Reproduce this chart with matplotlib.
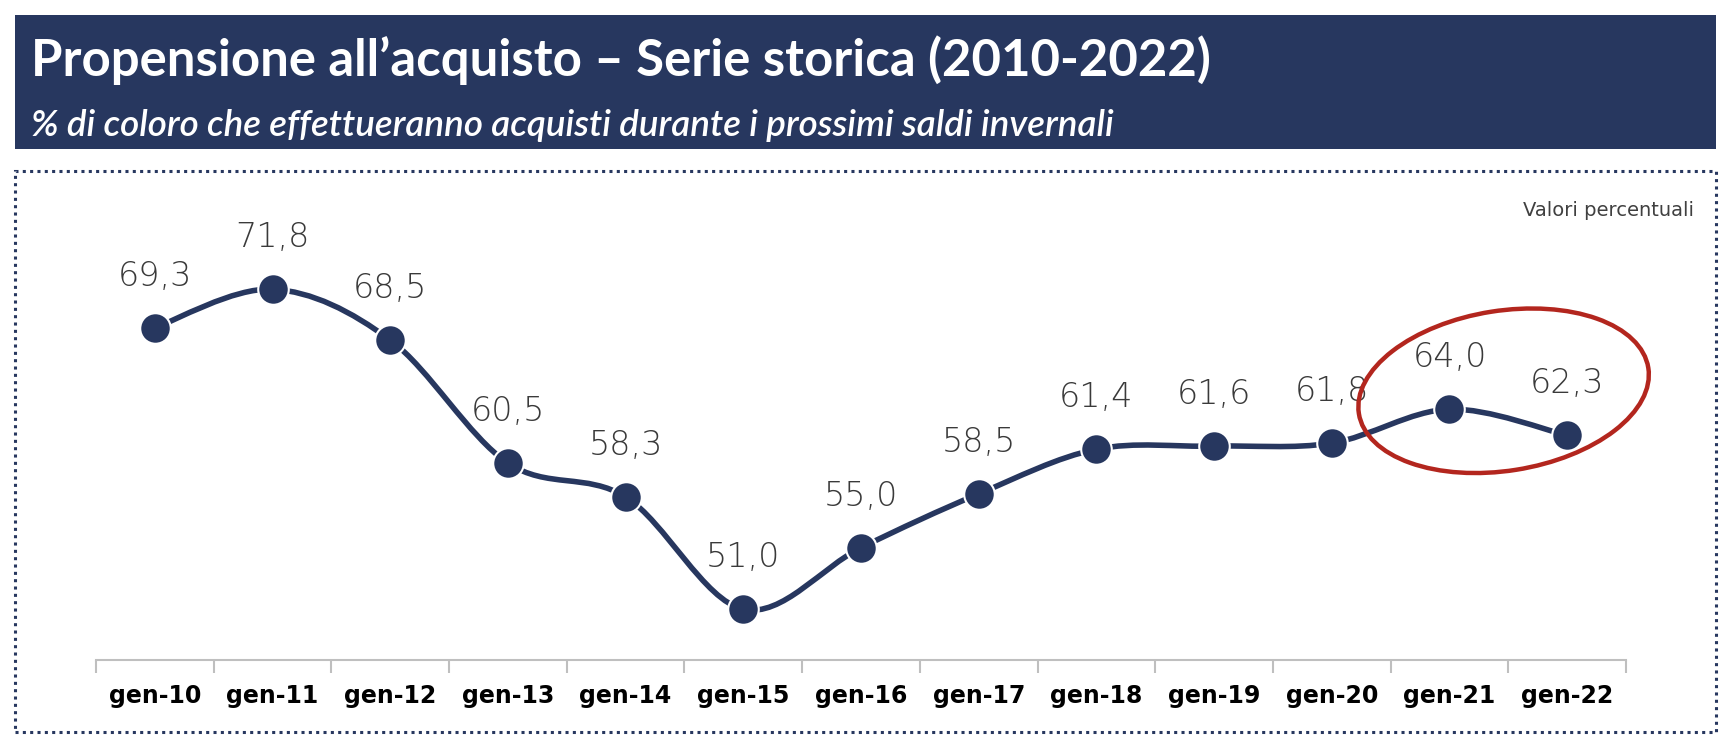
import numpy as np
import matplotlib
matplotlib.use("Agg")
from matplotlib import pyplot as plt
from matplotlib.path import Path
from matplotlib.patches import PathPatch, Rectangle, Ellipse
import matplotlib.transforms as mtransforms

#---------------------------------------------------------------------------
categories = ["gen-10", "gen-11", "gen-12", "gen-13", "gen-14", "gen-15", "gen-16",
              "gen-17", "gen-18", "gen-19", "gen-20", "gen-21", "gen-22"]
values = [69.3, 71.8, 68.5, 60.5, 58.3, 51.0, 55.0, 58.5, 61.4, 61.6, 61.8, 64.0, 62.3]
labels = ["69,3", "71,8", "68,5", "60,5", "58,3", "51,0", "55,0",
          "58,5", "61,4", "61,6", "61,8", "64,0", "62,3"]

title = "Propensione all\u2019acquisto \u2013 Serie storica (2010-2022)"
subtitle = "% di coloro che effettueranno acquisti durante i prossimi saldi invernali"
note = "Valori percentuali"

NAVY = "#27375f"
W, H = 1734, 748

#---------------------------------------------------------------------------
fig = plt.figure(figsize=(W / 100, H / 100), dpi=100)
fig.patch.set_facecolor("white")

# title banner
fig.patches.append(Rectangle((15 / W, 1 - 149 / H), (1716 - 15) / W, (149 - 15) / H,
                             transform=fig.transFigure, facecolor=NAVY, edgecolor="none"))
fig.text(31 / W, 1 - 60 / H, title, color="white", fontsize=36.6, fontweight="bold",
         family="Lato", va="center", ha="left")
fig.text(31 / W, 1 - 126 / H, subtitle, color="white", fontsize=26.5, style="italic",
         fontweight="semibold", family="Lato", va="center", ha="left")

# dotted frame
fig.patches.append(Rectangle((15 / W, 1 - 732 / H), (1716 - 15) / W, (732 - 171) / H,
                             transform=fig.transFigure, facecolor="none", edgecolor=NAVY,
                             linewidth=2.2, linestyle=(0, (1, 1.4))))

fig.text(1694 / W, 1 - 211 / H, note, color="#404040", fontsize=14, family="DejaVu Sans",
         ha="right", va="center")

#---------------------------------------------------------------------------
ax = fig.add_axes([96 / W, 1 - 660 / H, (1626 - 96) / W, (660 - 200) / H])
x = np.arange(len(values))
y = np.array(values)

# smoothed line (bezier segments like Excel's smoothed lines)
verts = [(x[0], y[0])]
codes = [Path.MOVETO]
n = len(x)
for i in range(n - 1):
    p0 = np.array([x[max(i - 1, 0)], y[max(i - 1, 0)]])
    p1 = np.array([x[i], y[i]])
    p2 = np.array([x[i + 1], y[i + 1]])
    p3 = np.array([x[min(i + 2, n - 1)], y[min(i + 2, n - 1)]])
    c1 = p1 + (p2 - p0) / 6.0
    c2 = p2 - (p3 - p1) / 6.0
    verts += [tuple(c1), tuple(c2), tuple(p2)]
    codes += [Path.CURVE4] * 3
ax.add_patch(PathPatch(Path(verts, codes), facecolor="none", edgecolor=NAVY,
                       linewidth=4, capstyle="round", zorder=2))

ax.plot(x, y, linestyle="none", marker="o", markersize=22, markerfacecolor=NAVY,
        markeredgecolor="white", markeredgewidth=1.5, zorder=3)

for xi, yi, lab in zip(x, y, labels):
    ax.annotate(lab, xy=(xi, yi), xytext=(0, 37), textcoords="offset points",
                ha="center", va="center", fontsize=24, color="#3a3a3a",
                family="DejaVu Sans", fontweight="light")

# red ellipse round the last two points
el = Ellipse((0, 0), 2.93, 1.60, angle=9, facecolor="none", edgecolor="#b3261e",
             linewidth=3.2, transform=fig.dpi_scale_trans +
             mtransforms.ScaledTranslation(11.46, 65.2, ax.transData), zorder=4,
             clip_on=False)
ax.add_artist(el)

ax.set_xlim(-0.5, n - 0.5)
ax.set_ylim(47.7, 77.6)
ax.set_xticks(np.arange(n + 1) - 0.5)
ax.set_xticklabels([])
ax.set_xticks(x, minor=True)
ax.set_xticklabels(categories, minor=True, fontsize=17, fontweight="bold", color="black")
ax.tick_params(axis="x", which="major", length=9, width=1.5, color="#bfbfbf", direction="out")
ax.tick_params(axis="x", which="minor", length=0, pad=17)
ax.set_yticks([])
for s in ["top", "left", "right"]:
    ax.spines[s].set_visible(False)
ax.spines["bottom"].set_color("#bfbfbf")
ax.spines["bottom"].set_linewidth(1.5)
ax.patch.set_visible(False)

fig.savefig("out.png", dpi=100)
